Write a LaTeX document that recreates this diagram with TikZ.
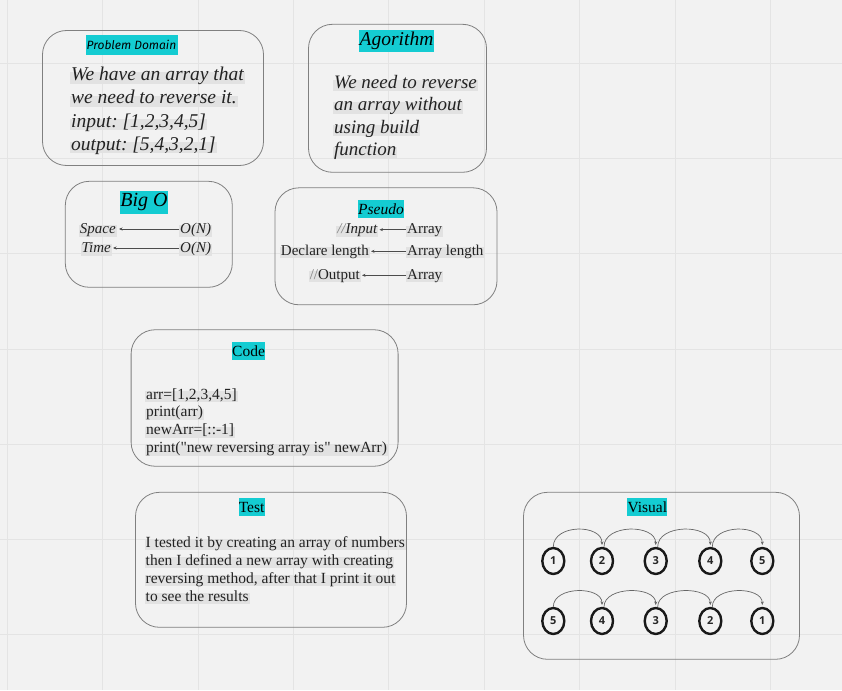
\documentclass[tikz,border=0pt]{standalone}
\usepackage{fontspec}
\setmainfont{Liberation Serif}
\newfontfamily\handfont{Fira Sans}
\newfontfamily\circfont{Open Sans}
\usetikzlibrary{arrows.meta,shapes.geometric}
\definecolor{bgc}{RGB}{242,242,242}
\definecolor{gridc}{RGB}{228,228,228}
\definecolor{boxc}{RGB}{128,128,128}
\definecolor{cyanhl}{RGB}{20,204,210}
\definecolor{hlgray}{RGB}{226,226,226}
\definecolor{txt}{RGB}{34,34,34}
\definecolor{slash}{RGB}{130,130,130}
\frenchspacing
\begin{document}
\begin{tikzpicture}[x=1pt,y=-1pt,
  panel/.style={draw=boxc,line width=0.8pt,rounded corners=24pt,inner sep=0pt},
  ttl/.style={fill=cyanhl,inner sep=0pt,text=black},
  hl/.style={fill=hlgray,inner xsep=1pt,inner ysep=0pt,text height=0.82em,text depth=0.3em,text=txt,yshift=-3.5pt},
  hlbig/.style={hl,yshift=-4.5pt},
  conn/.style={draw=black!70,line width=0.6pt,shorten >=1pt,-{Stealth[length=3.5pt,width=3pt]}},
  numc/.style={ellipse,draw=black!90,line width=2.4pt,minimum width=22pt,minimum height=26pt,inner sep=0pt,
    font=\circfont\bfseries\fontsize{11}{11}\selectfont,text=black!85},
  arcc/.style={draw=black!60,line width=0.7pt,shorten >=1.8pt,-{Stealth[length=3.5pt,width=3pt]}}
]
\useasboundingbox (0,0) rectangle (842,690);
\fill[bgc] (0,0) rectangle (842,690);
\foreach \gx in {7.3,102.7,198.1,293.5,388.9,484.3,579.7,675.1,770.5}
  \draw[gridc,line width=0.9pt] (\gx,0) -- (\gx,690);
\foreach \gy in {63.1,158.4,253.7,349,444.3,539.6,634.9}
  \draw[gridc,line width=0.9pt] (0,\gy) -- (842,\gy);

% ---------- Problem Domain ----------
\node[panel,minimum width=221pt,minimum height=135pt] (pdbox) at (153,98) {};
\node[ttl,minimum width=92pt,minimum height=20pt,font=\handfont\itshape\fontsize{12}{12}\selectfont] (pdt) at (131.5,45) {Problem Domain};
\begin{scope}[every node/.style={hlbig,anchor=west,font=\itshape\fontsize{19.5}{20}\selectfont}]
\node (pd1) at (70,70) {We have an array that};
\node (pd2) at (70,93.3) {we need to reverse it.};
\node (pd3) at (70,116.5) {input: [1,2,3,4,5]};
\node (pd4) at (70,139.5) {output: [5,4,3,2,1]};
\end{scope}

% ---------- Agorithm ----------
\node[panel,minimum width=178pt,minimum height=148pt] (agbox) at (397.5,98.3) {};
\node[ttl,minimum width=75pt,minimum height=22pt,font=\itshape\fontsize{19.5}{20}\selectfont] (agt) at (396.5,41) {Agorithm};
\begin{scope}[every node/.style={hlbig,anchor=west,font=\itshape\fontsize{19}{20}\selectfont}]
\node (ag1) at (333,77.5) {We need to reverse};
\node (ag2) at (333,100) {an array without};
\node (ag3) at (333,122.5) {using build};
\node (ag4) at (333,145) {function};
\end{scope}

% ---------- Big O ----------
\node[panel,minimum width=167pt,minimum height=106pt] (bobox) at (148.8,234.3) {};
\node[ttl,minimum width=48pt,minimum height=23pt,font=\itshape\fontsize{20}{20}\selectfont] (bot) at (144,202.5) {Big O};
\begin{scope}[every node/.style={hl,yshift=1pt,font=\itshape\fontsize{15}{16}\selectfont}]
\node[anchor=east] (space) at (117,228.5) {Space};
\node[anchor=east] (time) at (112,247.5) {Time};
\node[anchor=west] (on1) at (179,228.5) {O(N)};
\node[anchor=west] (on2) at (179,247.5) {O(N)};
\end{scope}
\draw[conn] ([yshift=2pt]on1.west) -- ([xshift=1pt,yshift=2pt]space.east);
\draw[conn] ([yshift=2pt]on2.west) -- ([yshift=2pt]time.east);

% ---------- Pseudo ----------
\node[panel,minimum width=222pt,minimum height=117pt] (psbox) at (386,246.3) {};
\node[ttl,minimum width=46pt,minimum height=18pt,font=\itshape\fontsize{15.5}{16}\selectfont] (pst) at (381,209) {Pseudo};
\begin{scope}[every node/.style={hl,font=\fontsize{15}{16}\selectfont}]
\node[anchor=east,font=\itshape\fontsize{15}{16}\selectfont] (inp) at (378.5,227.7) {\textcolor{slash}{//}Input};
\node[anchor=east] (decl) at (370,249.3) {Declare length};
\node[anchor=east] (outp) at (361,273.3) {\textcolor{slash}{//}Output};
\node[anchor=west] (arr1) at (406,227.7) {Array};
\node[anchor=west] (arrlen) at (406,249.3) {Array length};
\node[anchor=west] (arr2) at (406,273.3) {Array};
\end{scope}
\draw[conn] ([yshift=1.5pt]arr1.west) -- ([yshift=1.5pt]inp.east);
\draw[conn] ([yshift=1.5pt]arrlen.west) -- ([yshift=1.5pt]decl.east);
\draw[conn] ([yshift=1.5pt]arr2.west) -- ([yshift=1.5pt]outp.east);

% ---------- Code ----------
\node[panel,minimum width=267pt,minimum height=136.5pt] (cdbox) at (264.6,398) {};
\node[ttl,minimum width=33pt,minimum height=18pt,font=\fontsize{15.5}{16}\selectfont] (cdt) at (248.6,351.2) {Code};
\begin{scope}[every node/.style={hl,anchor=west,font=\fontsize{15.5}{16}\selectfont}]
\node (cd1) at (145,393) {arr=[1,2,3,4,5]};
\node (cd2) at (145,410.8) {print(arr)};
\node (cd3) at (145,428.6) {newArr=[::-1]};
\node (cd4) at (145,446.4) {print(\textquotedbl new reversing array is\textquotedbl{} newArr)};
\end{scope}

% ---------- Test ----------
\node[panel,minimum width=271pt,minimum height=135pt] (tsbox) at (271,559.8) {};
\node[ttl,minimum width=26pt,minimum height=18pt,font=\fontsize{15.5}{16}\selectfont] (tst) at (251.6,507.2) {Test};
\begin{scope}[every node/.style={hl,anchor=west,font=\fontsize{15.5}{16}\selectfont}]
\node (ts1) at (144.5,541) {I tested it by creating an array of numbers};
\node (ts2) at (144.5,559) {then I defined a new array with creating};
\node (ts3) at (144.5,577) {reversing method, after that I print it out};
\node (ts4) at (144.5,595) {to see the results};
\end{scope}

% ---------- Visual ----------
\node[panel,minimum width=276pt,minimum height=167pt] (vsbox) at (661.5,575.8) {};
\node[ttl,minimum width=40pt,minimum height=18pt,font=\fontsize{15.5}{16}\selectfont] (vst) at (647.3,507.2) {Visual};
\node[numc] (a1) at (553.3,561) {1};
\node[numc] (a2) at (602,561) {2};
\node[numc] (a3) at (655.7,561) {3};
\node[numc] (a4) at (710.3,561) {4};
\node[numc] (a5) at (762.3,561) {5};
\node[numc] (b5) at (553.3,621) {5};
\node[numc] (b4) at (602,621) {4};
\node[numc] (b3) at (655.7,621) {3};
\node[numc] (b2) at (710.3,621) {2};
\node[numc] (b1) at (762.3,621) {1};
\draw[arcc] (a1.north) .. controls +(0,-23) and +(0,-23) .. (a2.north);
\draw[arcc] ([xshift=2pt]a2.north) .. controls +(0,-23) and +(0,-23) .. (a3.north);
\draw[arcc] ([xshift=2pt]a3.north) .. controls +(0,-23) and +(0,-23) .. (a4.north);
\draw[arcc] ([xshift=2pt]a4.north) .. controls +(0,-23) and +(0,-23) .. (a5.north);
\draw[arcc] (b5.north) .. controls +(0,-21) and +(0,-21) .. (b4.north);
\draw[arcc] ([xshift=2pt]b4.north) .. controls +(0,-21) and +(0,-21) .. (b3.north);
\draw[arcc] ([xshift=2pt]b3.north) .. controls +(0,-21) and +(0,-21) .. (b2.north);
\draw[arcc] ([xshift=2pt]b2.north) .. controls +(0,-21) and +(0,-21) .. (b1.north);
\end{tikzpicture}
\end{document}
